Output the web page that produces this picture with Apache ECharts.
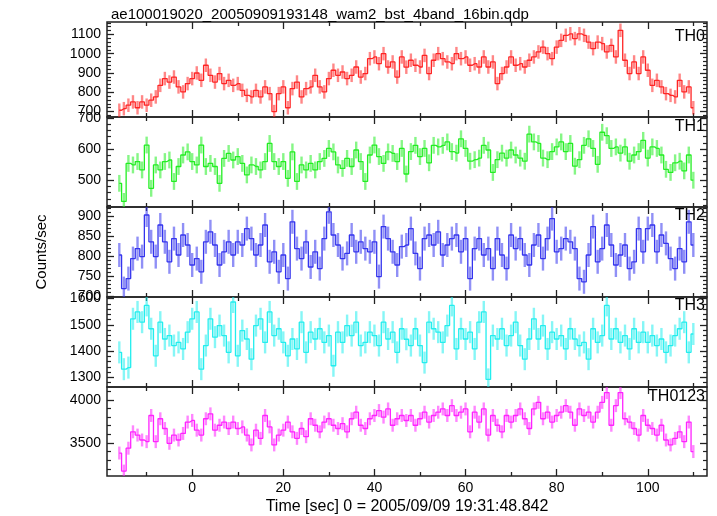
<!DOCTYPE html>
<html><head><meta charset="utf-8">
<script src="https://cdn.jsdelivr.net/npm/echarts@6/dist/echarts.min.js"></script>
<style>html,body{margin:0;padding:0;background:#fff}#c{width:717px;height:516px}</style>
</head><body><div id="c"></div>
<script>
// time grid: bin centres from -16 s, 1 s bins
const timeStart = -16;
const binWidth = 1;

const th0 = [
 707,715,733,750,720,750,733,759,776,836,
 871,853,879,828,802,845,871,900,862,940,
 888,853,897,845,862,836,845,810,784,776,
 810,776,828,793,700,793,828,720,819,853,
 776,819,828,888,828,802,871,914,888,905,
 871,888,931,879,897,974,983,948,1000,931,
 957,879,983,930,966,940,931,991,897,966,
 1000,974,957,948,1000,974,983,940,948,931,
 983,931,957,845,897,931,983,940,948,931,
 966,983,1009,1034,1000,974,1034,1069,1095,1103,
 1078,1103,1095,1060,1026,1060,1052,1009,1043,983,
 1121,966,897,957,897,983,914,836,862,828,
 793,784,776,862,802,828,720];
const th1 = [
 490,432,554,549,560,533,613,474,549,533,
 560,565,496,544,581,591,560,549,613,544,
 554,544,490,570,586,565,576,554,517,549,
 544,533,560,618,560,544,560,506,591,496,
 549,533,554,533,560,570,602,591,549,538,
 570,544,597,560,496,581,613,576,554,591,
 586,560,602,520,592,612,576,602,556,612,
 607,612,623,592,587,633,602,561,566,571,
 612,597,525,566,587,571,597,581,571,561,
 648,623,618,571,566,592,607,623,592,618,
 545,566,612,633,602,551,654,643,602,607,
 587,607,561,581,592,628,571,607,602,581,
 535,525,556,561,530,581,500];
const th2 = [
 802,718,743,793,818,798,902,835,798,877,
 835,785,843,802,852,827,777,793,760,835,
 860,827,777,810,835,802,835,827,868,843,
 802,827,877,785,810,760,802,743,885,818,
 793,835,772,810,768,843,910,852,827,793,
 806,852,810,835,818,810,835,748,873,843,
 810,777,823,827,868,806,768,843,852,827,
 860,802,827,843,852,810,843,743,818,843,
 802,818,768,843,802,768,852,818,843,802,
 777,827,852,793,843,893,810,818,843,835,
 818,743,735,802,873,785,818,877,827,777,
 802,827,768,785,868,810,868,877,810,852,
 831,793,768,818,785,885,827];
const th3 = [
 1395,1331,1337,1523,1549,1510,1574,1485,1382,1510,
 1446,1459,1421,1433,1408,1472,1523,1549,1331,1421,
 1523,1453,1497,1459,1395,1587,1382,1478,1446,1369,
 1497,1523,1433,1549,1459,1485,1433,1382,1446,1408,
 1510,1395,1472,1446,1485,1433,1459,1344,1472,1433,
 1497,1459,1510,1421,1433,1472,1459,1421,1510,1446,
 1472,1395,1485,1445,1421,1485,1421,1356,1510,1485,
 1472,1433,1497,1574,1408,1485,1446,1472,1408,1510,
 1549,1292,1459,1446,1485,1421,1459,1510,1421,1369,
 1446,1523,1446,1497,1408,1472,1446,1459,1408,1485,
 1446,1421,1433,1369,1485,1433,1459,1574,1446,1485,
 1433,1459,1408,1485,1433,1472,1433,1459,1421,1446,
 1395,1421,1459,1485,1510,1395,1465];
const th0123 = [
 3383,3174,3439,3629,3591,3534,3515,3818,3515,3780,
 3667,3496,3591,3534,3610,3742,3761,3648,3591,3780,
 3837,3648,3705,3742,3667,3742,3667,3686,3591,3477,
 3648,3553,3818,3686,3477,3591,3648,3742,3629,3553,
 3667,3572,3780,3705,3629,3742,3780,3705,3667,3723,
 3629,3780,3856,3705,3667,3780,3818,3875,3799,3894,
 3705,3780,3818,3760,3818,3705,3780,3856,3742,3818,
 3856,3894,3818,3932,3818,3856,3894,3629,3856,3742,
 3894,3591,3818,3705,3629,3818,3742,3818,3894,3780,
 3667,3894,3970,3780,3856,3742,3818,3856,3932,3856,
 3705,3894,3818,3856,3742,3856,3970,4083,3705,3932,
 4083,3780,3742,3667,3591,3818,3705,3667,3591,3705,
 3534,3477,3553,3629,3515,3742,3400];

const panelNames = ['TH0','TH1','TH2','TH3','TH0123'];
const panelColors = ['#ff2424','#22ee22','#3434ee','#22eeee','#ff22ff'];
const panelErrors = [35, 27, 30, 42, 75];
const yMin = [672, 414, 697, 1263, 3117];
const yMax = [1164, 703, 922, 1606, 4148];
const yMajorTicks = [[700,800,900,1000,1100],[500,600,700],[700,750,800,850,900],[1300,1400,1500,1600],[3500,4000]];
const yMinorStep = [20, 20, 10, 20, 100];
const xMajorTicks = [0,20,40,60,80,100];
const xMinorTicks = [-10,10,30,50,70,90,110];
const xMin = -18.7, xMax = 113;
const titleText = 'ae100019020_20050909193148_wam2_bst_4band_16bin.qdp';
const xName = 'Time [sec] 0 = 2005/09/09 19:31:48.842';
const yName = 'Counts/sec';

const panelTops = [22, 117, 207, 297, 387];
const panelHeights = [95, 90, 90, 90, 90];
const labelTops = [29, 119, 208, 298, 389];
const FONT = 'Liberation Sans, Arial, sans-serif';

const series = [th0, th1, th2, th3, th0123];

const chart = echarts.init(document.getElementById('c'), null, {renderer: 'canvas'});
const grids = [], xAxes = [], yAxes = [], ser = [], graphics = [];

function minorVals(i) {
  const out = [];
  const s = yMinorStep[i];
  for (let v = Math.ceil(yMin[i] / s) * s; v <= yMax[i]; v += s) {
    if (yMajorTicks[i].indexOf(v) < 0) out.push(v);
  }
  return out;
}
const plain = v => String(v);
const noLine = {show: false, onZero: false};

for (let i = 0; i < 5; i++) {
  grids.push({left: 107, right: 10, top: panelTops[i], height: panelHeights[i],
    show: true, borderColor: '#222', borderWidth: 1.5, backgroundColor: 'transparent'});
  const last = i === 4;
  const xbase = {type: 'value', gridIndex: i, min: xMin, max: xMax,
    splitLine: {show: false}, axisLine: noLine};
  xAxes.push(Object.assign({}, xbase, {position: 'bottom',
    axisTick: {show: true, inside: true, length: 7, customValues: xMajorTicks, lineStyle: {color: '#222', width: 1.3}},
    axisLabel: {show: last, customValues: xMajorTicks, formatter: plain, fontSize: 14, color: '#000', fontFamily: FONT, margin: 5},
    name: last ? xName : '', nameLocation: 'middle', nameGap: 23,
    nameTextStyle: {fontSize: 16, color: '#000', fontFamily: FONT}}));
  xAxes.push(Object.assign({}, xbase, {position: 'bottom',
    axisTick: {show: true, inside: true, length: 4, customValues: xMinorTicks, lineStyle: {color: '#222', width: 1.3}},
    axisLabel: {show: false}}));
  xAxes.push(Object.assign({}, xbase, {position: 'top',
    axisTick: {show: true, inside: true, length: 7, customValues: xMajorTicks, lineStyle: {color: '#222', width: 1.3}},
    axisLabel: {show: false}}));
  xAxes.push(Object.assign({}, xbase, {position: 'top',
    axisTick: {show: true, inside: true, length: 4, customValues: xMinorTicks, lineStyle: {color: '#222', width: 1.3}},
    axisLabel: {show: false}}));

  const ybase = {type: 'value', gridIndex: i, min: yMin[i], max: yMax[i],
    splitLine: {show: false}, axisLine: noLine};
  yAxes.push(Object.assign({}, ybase, {position: 'left',
    axisTick: {show: true, inside: true, length: 7, customValues: yMajorTicks[i], lineStyle: {color: '#222', width: 1.3}},
    axisLabel: {show: true, customValues: yMajorTicks[i], formatter: plain, fontSize: 14, color: '#000', fontFamily: FONT, margin: 6},
    name: i === 2 ? yName : '', nameLocation: 'middle', nameGap: 58,
    nameTextStyle: {fontSize: 15, color: '#000', fontFamily: FONT}}));
  yAxes.push(Object.assign({}, ybase, {position: 'left',
    axisTick: {show: true, inside: true, length: 4, customValues: minorVals(i), lineStyle: {color: '#222', width: 1.2}},
    axisLabel: {show: false}}));
  yAxes.push(Object.assign({}, ybase, {position: 'right',
    axisTick: {show: true, inside: true, length: 7, customValues: yMajorTicks[i], lineStyle: {color: '#222', width: 1.3}},
    axisLabel: {show: false}}));
  yAxes.push(Object.assign({}, ybase, {position: 'right',
    axisTick: {show: true, inside: true, length: 4, customValues: minorVals(i), lineStyle: {color: '#222', width: 1.2}},
    axisLabel: {show: false}}));

  const vals = series[i];
  const pts = vals.map((v, k) => [timeStart + k * binWidth, v, panelErrors[i]]);
  ser.push({type: 'custom', xAxisIndex: 4 * i, yAxisIndex: 4 * i, clip: true,
    itemStyle: {color: panelColors[i]},
    renderItem: function (params, api) {
      const x = api.value(0), y = api.value(1), e = api.value(2);
      const p1 = api.coord([x, y - e]);
      const p2 = api.coord([x, y + e]);
      return {type: 'line', shape: {x1: p1[0], y1: p1[1], x2: p2[0], y2: p2[1]},
        style: {stroke: panelColors[i], lineWidth: 2.4, opacity: 0.55}};
    },
    encode: {x: 0, y: 1}, data: pts, silent: true, animation: false});
  ser.push({type: 'line', xAxisIndex: 4 * i, yAxisIndex: 4 * i, step: 'middle',
    data: pts.map(p => [p[0], p[1]]), showSymbol: false, symbol: 'none',
    lineStyle: {color: panelColors[i], width: 1.3}, itemStyle: {color: panelColors[i]},
    silent: true, animation: false});
  graphics.push({type: 'text', right: 12, top: labelTops[i],
    style: {text: panelNames[i], fontSize: 16, fill: '#000', fontFamily: FONT}});
}

chart.setOption({
  animation: false,
  backgroundColor: '#fff',
  title: {text: titleText, left: 106, top: 2,
    textStyle: {fontSize: 15, fontWeight: 'normal', color: '#000', fontFamily: FONT}},
  grid: grids, xAxis: xAxes, yAxis: yAxes, series: ser, graphic: graphics
});
</script></body></html>
